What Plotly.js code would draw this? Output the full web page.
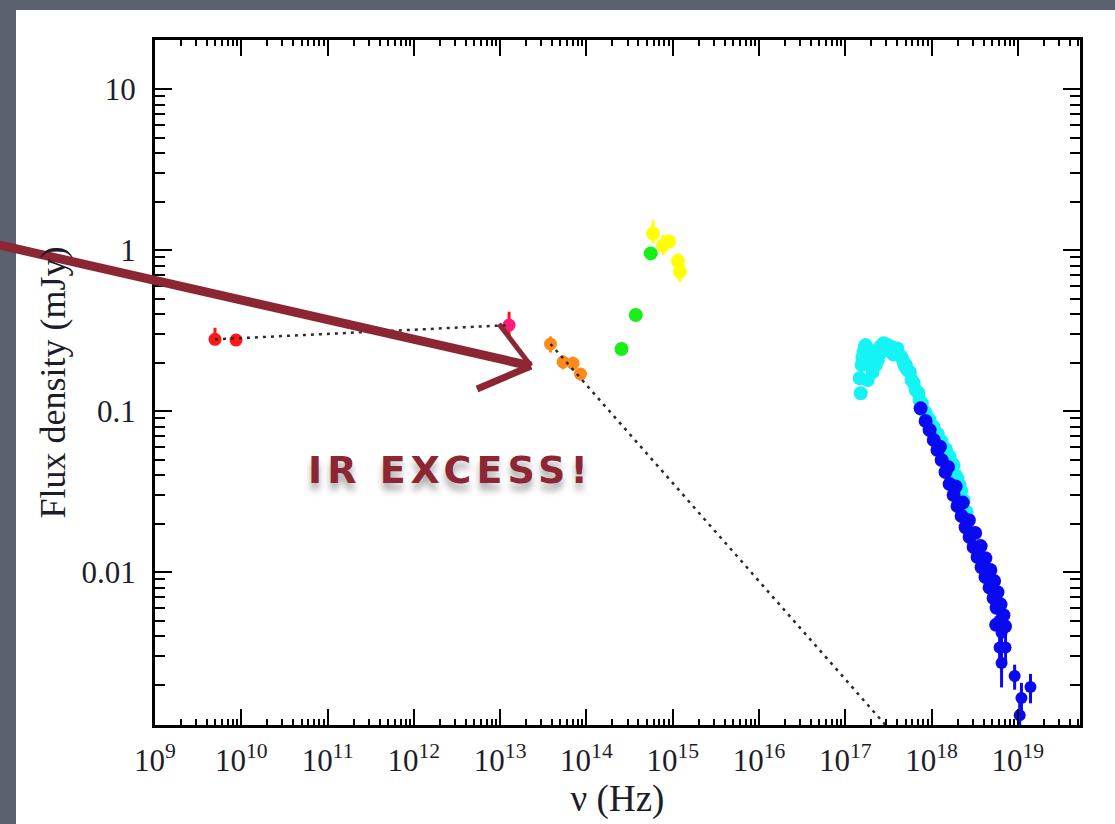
<!DOCTYPE html>
<html>
<head>
<meta charset="utf-8">
<script src="https://cdn.plot.ly/plotly-3.0.1.min.js"></script>
<style>
  html, body { margin: 0; padding: 0; background: #5c6170; }
  #chart { width: 1115px; height: 824px; }
</style>
</head>
<body>
<div id="chart"></div>
<script>
// ---------------- data ----------------
// Radio (red)
const radioNu = [4.96e9, 8.69e9];
const radioFlux = [0.279, 0.276];
const radioErrPlus = [0.05, 0.0];
const radioErrMinus = [0.0, 0.0];

// Sub-mm point (magenta with red bar)
const submmNu = [1.27e13];
const submmFlux = [0.342];
const submmErrPlus = [0.072];
const submmErrMinus = [0.063];

// Infrared (orange)
const irNu = [3.83e13, 5.36e13, 7.0e13, 8.53e13];
const irFlux = [0.261, 0.202, 0.198, 0.170];
const irErr = [0.03, 0.02, 0.02, 0.015];

// Optical (green)
const optNu = [2.55e14, 3.73e14, 5.56e14];
const optFlux = [0.243, 0.395, 0.954];

// UV (yellow)
const uvNu = [5.92e14, 7.73e14, 9.07e14, 1.15e15, 1.21e15];
const uvFlux = [1.27, 1.07, 1.13, 0.855, 0.733];
const uvErrPlus = [0.26, 0.17, 0.10, 0.10, 0.12];
const uvErrMinus = [0.17, 0.14, 0.08, 0.08, 0.10];

// Soft X-ray (cyan)
const softNu = [1.51e17, 1.47e17, 1.55e17, 1.63e17, 1.68e17, 1.72e17, 1.82e17, 1.86e17, 1.92e17, 2.0e17,
                2.07e17, 2.25e17, 2.38e17, 2.50e17, 2.6e17, 2.78e17, 3.0e17, 3.10e17, 3.44e17, 3.6e17,
                3.83e17, 4.0e17, 4.26e17, 4.5e17, 4.74e17, 5.0e17, 5.28e17, 5.6e17, 5.87e17, 6.2e17,
                6.53e17, 7.0e17, 7.27e17, 7.7e17, 8.08e17, 8.5e17, 9.0e17, 9.5e17, 1.0e18, 1.05e18,
                1.11e18, 1.18e18, 1.24e18, 1.3e18, 1.38e18, 1.46e18, 1.53e18, 1.62e18, 1.71e18, 1.8e18,
                1.90e18, 2.0e18, 2.11e18, 2.2e18, 2.35e18, 2.55e18,
                1.58e17, 1.75e17, 2.15e17, 2.45e17, 3.3e17, 4.1e17, 4.9e17];
const softFlux = [0.129, 0.160, 0.193, 0.232, 0.250, 0.257, 0.156, 0.201, 0.239, 0.220,
                  0.175, 0.193, 0.207, 0.246, 0.255, 0.264, 0.245, 0.257, 0.250, 0.225,
                  0.239, 0.245, 0.223, 0.215, 0.201, 0.195, 0.180, 0.175, 0.156, 0.150,
                  0.135, 0.130, 0.117, 0.112, 0.101, 0.098, 0.0905, 0.088, 0.0818, 0.080,
                  0.0741, 0.072, 0.0661, 0.065, 0.0589, 0.058, 0.0533, 0.052, 0.0475, 0.046,
                  0.0400, 0.038, 0.0347, 0.032, 0.0280, 0.0236,
                  0.215, 0.205, 0.230, 0.225, 0.235, 0.225, 0.190];

// Hard X-ray (blue) - dense band
const hardNu = [7.46e17, 8.53e17, 9.49e17, 1.06e18, 1.17e18, 1.31e18, 1.45e18, 1.62e18, 1.80e18, 2.00e18,
                2.23e18, 2.48e18, 2.76e18, 3.07e18, 3.41e18, 3.80e18, 4.22e18, 4.70e18, 5.23e18, 5.66e18,
                1.25e18, 1.55e18, 1.9e18, 2.3e18, 2.7e18, 3.2e18, 3.7e18, 4.2e18, 4.8e18, 5.3e18,
                5.8e18, 6.3e18, 6.8e18, 7.1e18, 5.6e18];
const hardFlux = [0.104, 0.0867, 0.0762, 0.0661, 0.0573, 0.0496, 0.0418, 0.0352, 0.0301, 0.0257,
                  0.0223, 0.0190, 0.0165, 0.0143, 0.0124, 0.0107, 0.0093, 0.0080, 0.0069, 0.0060,
                  0.060, 0.045, 0.034, 0.027, 0.021, 0.0175, 0.0145, 0.0122, 0.0103, 0.0088,
                  0.0075, 0.0063, 0.0054, 0.0046, 0.0047];

// Hard X-ray (blue) - faint tail with error bars
const tailNu = [6.14e18, 6.47e18, 6.14e18, 7.2e18, 6.47e18, 9.17e18, 1.10e19, 1.40e19, 1.05e19];
const tailFlux = [0.0050, 0.0042, 0.0034, 0.0034, 0.00272, 0.00226, 0.00165, 0.00193, 0.00129];
const tailErr = [0.0007, 0.0008, 0.0008, 0.0007, 0.0008, 0.0004, 0.0004, 0.0004, 0.0004];

// Dotted power-law guide lines
const radioLineNu = [4.96e9, 1.27e13];
const radioLineFlux = [0.279, 0.342];
const irLineNu = [3.83e13, 1.0e18];
const irLineFlux = [0.261, 5.3e-4];

// Tick labels
const xTickVals = [1e9, 1e10, 1e11, 1e12, 1e13, 1e14, 1e15, 1e16, 1e17, 1e18, 1e19];
const xTickText = ['10<sup>9</sup>', '10<sup>10</sup>', '10<sup>11</sup>', '10<sup>12</sup>', '10<sup>13</sup>',
                   '10<sup>14</sup>', '10<sup>15</sup>', '10<sup>16</sup>', '10<sup>17</sup>', '10<sup>18</sup>', '10<sup>19</sup>'];
const yTickVals = [0.01, 0.1, 1, 10];
const yTickText = ['0.01', '0.1', '1', '10'];

// minor log ticks (2..9 in each decade)
const minorLog = (lo, hi) => {
  const v = [];
  for (let e = lo; e <= hi; e++) for (let d = 2; d <= 9; d++) v.push(d * Math.pow(10, e));
  return v;
};

// ---------------- traces ----------------
const pts = (x, y, color, size, err) => {
  const t = {x: x, y: y, type: 'scatter', mode: 'markers',
             marker: {color: color, size: size, line: {width: 0}}, hoverinfo: 'x+y'};
  if (err) t.error_y = Object.assign({type: 'data', symmetric: false, color: err.color || color,
                                      thickness: 3, width: 0, visible: true}, err);
  return t;
};

const data = [
  pts(softNu, softFlux, '#14f4f4', 14),
  pts(hardNu, hardFlux, '#0a0af0', 14),
  pts(tailNu, tailFlux, '#0a0af0', 12, {array: tailErr, arrayminus: tailErr, symmetric: false}),
  pts(radioNu, radioFlux, '#ff1616', 13, {array: radioErrPlus, arrayminus: radioErrMinus}),
  pts(submmNu, submmFlux, '#ff1a7a', 13, {array: submmErrPlus, arrayminus: submmErrMinus, color: '#ff1616'}),
  pts(irNu, irFlux, '#ff8a1c', 13, {array: irErr, arrayminus: irErr}),
  pts(optNu, optFlux, '#18ef18', 14),
  pts(uvNu, uvFlux, '#ffff00', 14, {array: uvErrPlus, arrayminus: uvErrMinus}),
  {x: radioLineNu, y: radioLineFlux, type: 'scatter', mode: 'lines',
   line: {color: '#2a2a2a', width: 2.5, dash: '3px,5px'}, hoverinfo: 'skip'},
  {x: irLineNu, y: irLineFlux, type: 'scatter', mode: 'lines',
   line: {color: '#2a2a2a', width: 2.5, dash: '3px,5px'}, hoverinfo: 'skip'}
];

// ---------------- layout ----------------
const L = 155, R = 1080, T = 40, B = 725;
const px = v => (v - L) / (R - L);
const py = v => (B - v) / (B - T);
const arrowColor = '#8c2633';
const txtColor = '#1d1d2a';

const axisCommon = {
  type: 'log', showline: true, linewidth: 3, linecolor: '#000', mirror: 'allticks',
  ticks: 'inside', tickwidth: 2, tickcolor: '#000', showgrid: false, zeroline: false,
  tickmode: 'array', tickfont: {family: 'Liberation Serif', size: 31, color: txtColor}
};

const layout = {
  width: 1115, height: 824,
  margin: {l: L, r: 1115 - R, t: T, b: 824 - B, pad: 0},
  paper_bgcolor: '#5c6170', plot_bgcolor: '#ffffff',
  showlegend: false,
  font: {family: 'Liberation Serif', color: txtColor},
  xaxis: Object.assign({}, axisCommon, {
    range: [9, 19.72], tickvals: xTickVals, ticktext: xTickText, ticklen: 16,
    ticklabelstandoff: 6,
    minor: {tickmode: 'array', tickvals: minorLog(9, 19), ticks: 'inside', ticklen: 6,
            tickwidth: 2, tickcolor: '#000', showgrid: false},
    title: {text: 'ν (Hz)', font: {family: 'Liberation Serif', size: 37, color: txtColor}, standoff: 6}
  }),
  yaxis: Object.assign({}, axisCommon, {
    range: [-2.95, 1.305], tickvals: yTickVals, ticktext: yTickText, ticklen: 17,
    ticklabelstandoff: 10,
    minor: {tickmode: 'array', tickvals: minorLog(-3, 1), ticks: 'inside', ticklen: 10,
            tickwidth: 2, tickcolor: '#000', showgrid: false},
    title: {text: 'Flux density (mJy)', font: {family: 'Liberation Serif', size: 36, color: txtColor}, standoff: 5}
  }),
  shapes: [
    {type: 'rect', xref: 'paper', yref: 'paper', layer: 'below',
     x0: px(16), x1: px(1120), y0: py(830), y1: py(10), fillcolor: '#ffffff', line: {width: 0}},
    {type: 'line', xref: 'paper', yref: 'paper', layer: 'above',
     x0: px(-5), y0: py(244), x1: px(531), y1: py(366), line: {color: arrowColor, width: 9}},
    {type: 'line', xref: 'paper', yref: 'paper', layer: 'above',
     x0: px(531), y0: py(366), x1: px(477), y1: py(389), line: {color: arrowColor, width: 7}},
    {type: 'line', xref: 'paper', yref: 'paper', layer: 'above',
     x0: px(531), y0: py(366), x1: px(499), y1: py(324), line: {color: arrowColor, width: 5}}
  ],
  annotations: [
    {xref: 'paper', yref: 'paper', x: px(306), y: py(470), showarrow: false,
     text: '<span style="letter-spacing:5px">IR EXCESS!</span>',
     font: {family: 'DejaVu Sans', size: 38, weight: 'bold', color: arrowColor,
            shadow: '0px 7px 7px rgba(0,0,0,0.35)'}}
  ]
};

Plotly.newPlot('chart', data, layout, {displayModeBar: false, staticPlot: true});
</script>
</body>
</html>
